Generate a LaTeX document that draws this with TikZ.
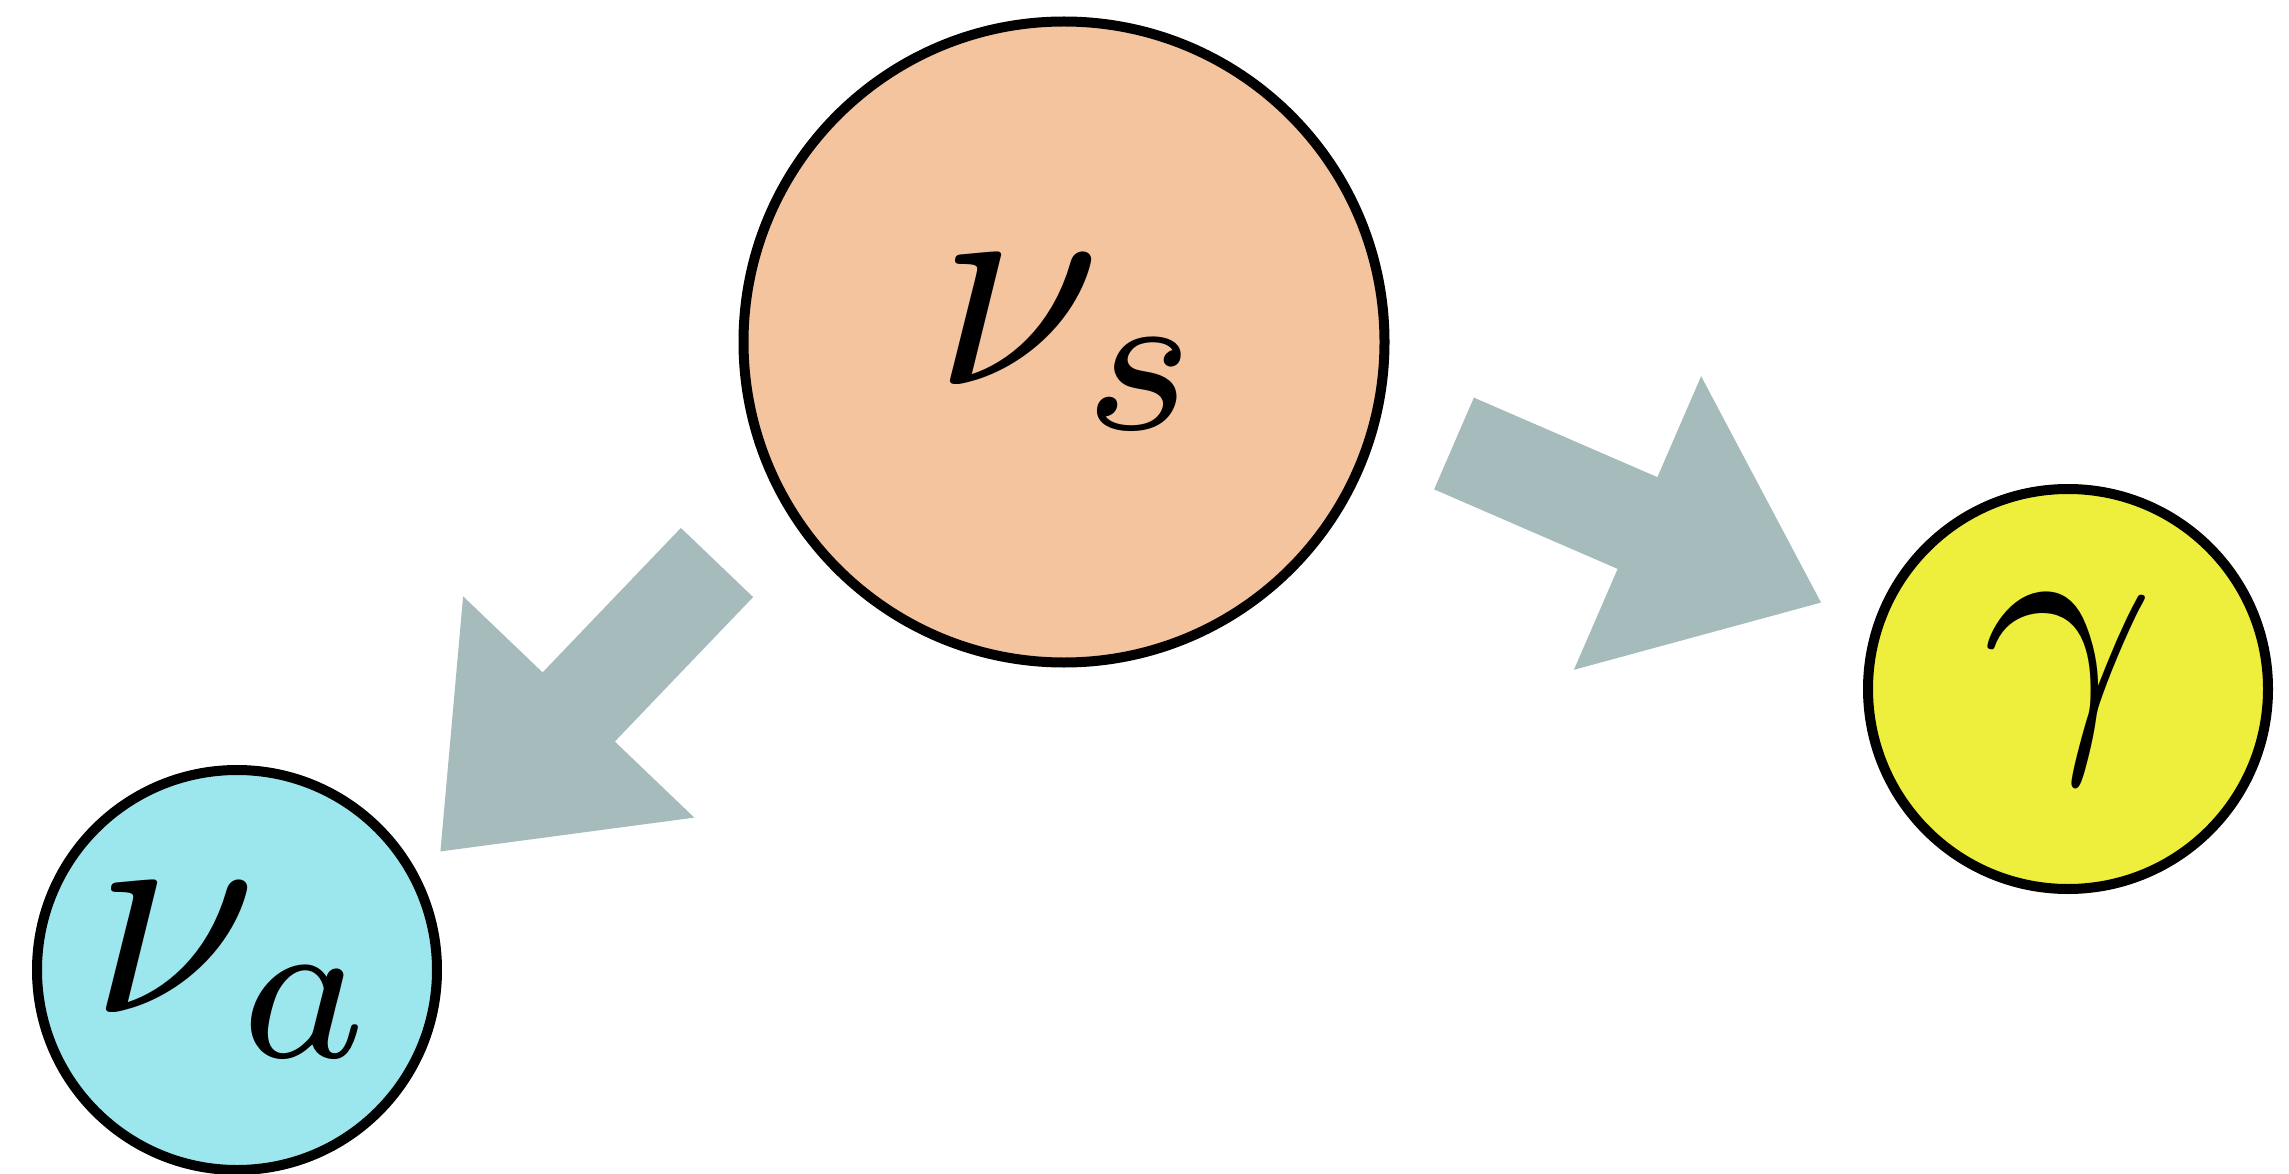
\documentclass[tikz,border=0pt]{standalone}
\usepackage{graphicx}
\definecolor{arrowgray}{RGB}{166,187,187}
\definecolor{peach}{RGB}{244,196,159}
\definecolor{skyc}{RGB}{156,230,238}
\definecolor{lemon}{RGB}{238,238,60}
\begin{document}
\begin{tikzpicture}[x=1pt,y=-1pt,
  particle/.style={circle,draw=black,line width=10pt,inner sep=0pt},
  fatarrow/.style={fill=arrowgray}]
\useasboundingbox (0,0) rectangle (2289,1174);
\node[particle,fill=peach,minimum size=641pt] (s) at (1064,342) {\hspace*{18pt}\scalebox{30}{$\nu_s$}};
\node[particle,fill=skyc,minimum size=400pt] (a) at (237,970) {\scalebox{30}{$\nu_a$}};
\node[particle,fill=lemon,minimum size=400pt] (g) at (2068,689) {\scalebox{30}{$\gamma$}};
% arrow from nu_s towards nu_a
\coordinate (la) at (717,562.5);
\begin{scope}[shift={(la)},rotate=226.25]
\fill[fatarrow] (0,50) -- (200,50) -- (200,160) -- (400,0) -- (200,-160) -- (200,-50) -- (0,-50) -- cycle;
\end{scope}
% arrow from nu_s towards gamma
\coordinate (ra) at (1454,443.5);
\begin{scope}[shift={(ra)},rotate=-23.43]
\fill[fatarrow] (0,50) -- (200,50) -- (200,160) -- (400,0) -- (200,-160) -- (200,-50) -- (0,-50) -- cycle;
\end{scope}
\end{tikzpicture}
\end{document}
